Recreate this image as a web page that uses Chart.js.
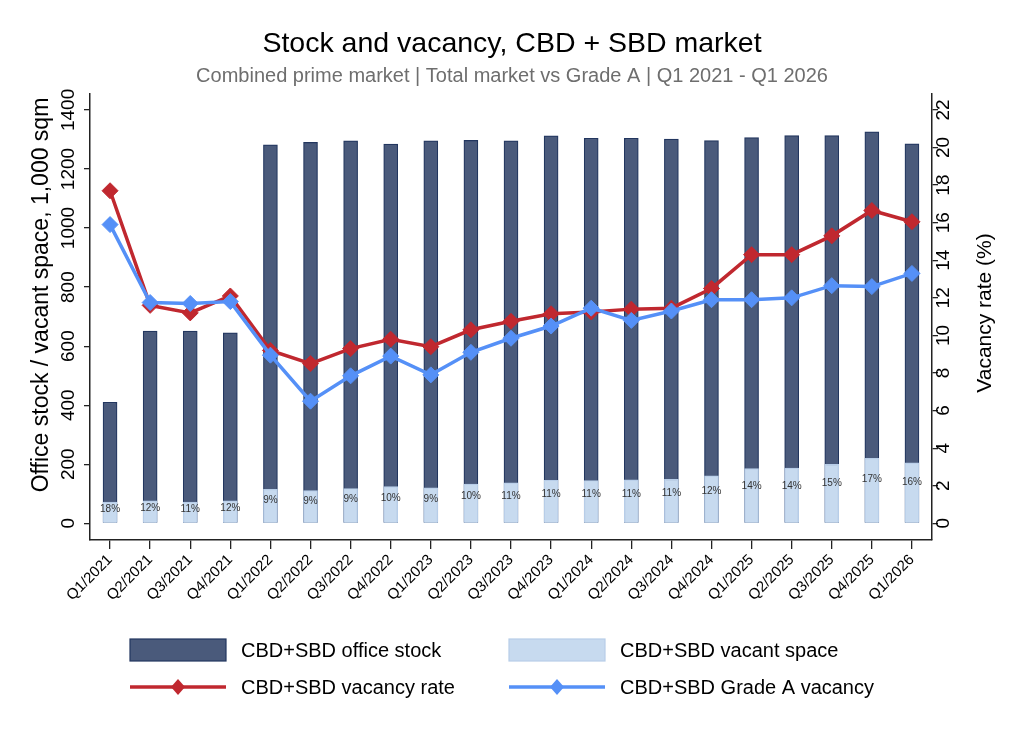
<!DOCTYPE html>
<html>
<head>
<meta charset="utf-8">
<title>Stock and vacancy, CBD + SBD market</title>
<script src="https://cdn.jsdelivr.net/npm/chart.js"></script>
<style>
  html, body { margin: 0; padding: 0; background: #fff; }
  #wrap { width: 1024px; height: 745px; }
</style>
</head>
<body>
<div id="wrap"><canvas id="chart" width="1024" height="745"></canvas></div>
<script>
const quarters = [
  'Q1/2021', 'Q2/2021', 'Q3/2021', 'Q4/2021',
  'Q1/2022', 'Q2/2022', 'Q3/2022', 'Q4/2022',
  'Q1/2023', 'Q2/2023', 'Q3/2023', 'Q4/2023',
  'Q1/2024', 'Q2/2024', 'Q3/2024', 'Q4/2024',
  'Q1/2025', 'Q2/2025', 'Q3/2025', 'Q4/2025',
  'Q1/2026',
];
// 1,000 sqm
const officeStock = [410, 651, 651, 645, 1282, 1290, 1295, 1284, 1295, 1297, 1295, 1312, 1304, 1304, 1301, 1296, 1306, 1313, 1313, 1326, 1285];
const vacantSpace = [72, 76, 72, 76, 115, 111, 118, 124, 120, 133, 137, 146, 145, 147, 149, 161, 185, 187, 200, 220, 205];
// %
const vacancyRate = [17.7, 11.6, 11.2, 12.1, 9.2, 8.5, 9.3, 9.8, 9.4, 10.3, 10.75, 11.15, 11.25, 11.4, 11.45, 12.5, 14.3, 14.3, 15.3, 16.65, 16.05];
const gradeAVacancy = [15.9, 11.75, 11.7, 11.8, 8.95, 6.5, 7.85, 8.9, 7.9, 9.1, 9.85, 10.5, 11.45, 10.8, 11.3, 11.9, 11.9, 12.0, 12.65, 12.6, 13.3];

const leftTicks = [0, 200, 400, 600, 800, 1000, 1200, 1400];
const rightTicks = [0, 2, 4, 6, 8, 10, 12, 14, 16, 18, 20, 22];

const FONT = "'Liberation Sans', Arial, Helvetica, sans-serif";
const AXIS = '#222';

// vacancy % label inside each light bar
const vacantLabels = {
  id: 'vacantLabels',
  afterDatasetsDraw(chart) {
    const ctx = chart.ctx;
    const meta = chart.getDatasetMeta(1);
    const y = chart.scales.y;
    ctx.save();
    ctx.font = '10px ' + FONT;
    ctx.fillStyle = '#333';
    ctx.textAlign = 'center';
    ctx.textBaseline = 'middle';
    meta.data.forEach((bar, i) => {
      const pct = Math.round(vacantSpace[i] / officeStock[i] * 100) + '%';
      ctx.fillText(pct, bar.x, y.getPixelForValue(vacantSpace[i] * 0.68));
    });
    ctx.restore();
  },
};

// axis titles, both reading upwards
const axisTitles = {
  id: 'axisTitles',
  afterDraw(chart) {
    const ctx = chart.ctx;
    ctx.save();
    ctx.fillStyle = '#000';
    ctx.textAlign = 'center';
    ctx.textBaseline = 'middle';
    ctx.font = '23px ' + FONT;
    ctx.translate(42, 295);
    ctx.rotate(-Math.PI / 2);
    ctx.fillText('Office stock / vacant space, 1,000 sqm', 0, 0);
    ctx.restore();

    ctx.save();
    ctx.fillStyle = '#000';
    ctx.textAlign = 'center';
    ctx.textBaseline = 'middle';
    ctx.font = '21px ' + FONT;
    ctx.translate(985, 313);
    ctx.rotate(-Math.PI / 2);
    ctx.fillText('Vacancy rate (%)', 0, 0);
    ctx.restore();
  },
};

// two-column legend below the axis
const bottomLegend = {
  id: 'bottomLegend',
  afterDraw(chart) {
    const ctx = chart.ctx;
    const ds = chart.data.datasets;
    const cols = [130, 509];
    const rows = [650, 687];
    const items = [
      { d: ds[0], col: 0, row: 0, kind: 'box' },
      { d: ds[1], col: 1, row: 0, kind: 'box' },
      { d: ds[2], col: 0, row: 1, kind: 'line' },
      { d: ds[3], col: 1, row: 1, kind: 'line' },
    ];
    items.forEach((it) => {
      const x = cols[it.col];
      const y = rows[it.row];
      ctx.save();
      if (it.kind === 'box') {
        ctx.fillStyle = it.d.backgroundColor;
        ctx.strokeStyle = it.d.borderColor;
        ctx.lineWidth = 1.2;
        ctx.fillRect(x, y - 11, 96, 22);
        ctx.strokeRect(x, y - 11, 96, 22);
      } else {
        ctx.strokeStyle = it.d.borderColor;
        ctx.lineWidth = 3.5;
        ctx.beginPath();
        ctx.moveTo(x, y);
        ctx.lineTo(x + 96, y);
        ctx.stroke();
        const cx = x + 48;
        ctx.fillStyle = it.d.borderColor;
        ctx.beginPath();
        ctx.moveTo(cx - 7, y);
        ctx.lineTo(cx, y - 8);
        ctx.lineTo(cx + 7, y);
        ctx.lineTo(cx, y + 8);
        ctx.closePath();
        ctx.fill();
      }
      ctx.fillStyle = '#000';
      ctx.font = '20px ' + FONT;
      ctx.textAlign = 'left';
      ctx.textBaseline = 'middle';
      ctx.fillText(it.d.label, x + 111, y + 1);
      ctx.restore();
    });
  },
};

const chartData = {
  labels: quarters,
  datasets: [
    {
      type: 'bar',
      label: 'CBD+SBD office stock',
      data: officeStock,
      backgroundColor: '#4a5a7b',
      borderColor: '#22365f',
      borderWidth: 1.2,
      barThickness: 14,
      grouped: false,
      yAxisID: 'y',
      order: 3,
    },
    {
      type: 'bar',
      label: 'CBD+SBD vacant space',
      data: vacantSpace,
      backgroundColor: '#c7daef',
      borderColor: '#b7cde8',
      borderWidth: 1.2,
      barThickness: 14,
      grouped: false,
      yAxisID: 'y',
      order: 2,
    },
    {
      type: 'line',
      label: 'CBD+SBD vacancy rate',
      data: vacancyRate,
      borderColor: '#c0282f',
      backgroundColor: '#c0282f',
      borderWidth: 3.5,
      pointStyle: 'rectRot',
      pointRadius: 8,
      pointBorderWidth: 1,
      tension: 0,
      yAxisID: 'y1',
      order: 1,
    },
    {
      type: 'line',
      label: 'CBD+SBD Grade A vacancy',
      data: gradeAVacancy,
      borderColor: '#5590f7',
      backgroundColor: '#5590f7',
      borderWidth: 3.5,
      pointStyle: 'rectRot',
      pointRadius: 8,
      pointBorderWidth: 1,
      tension: 0,
      yAxisID: 'y1',
      order: 0,
    },
  ],
};

const config = {
  data: chartData,
  options: {
    responsive: false,
    animation: false,
    layout: { padding: { left: 0, right: 0, top: 0, bottom: 145 } },
    plugins: {
      legend: { display: false },
      tooltip: { enabled: false },
      title: {
        display: true,
        text: 'Stock and vacancy, CBD + SBD market',
        color: '#000',
        font: { family: FONT, size: 28.5, weight: 'normal' },
        padding: { top: 27, bottom: 3 },
      },
      subtitle: {
        display: true,
        text: 'Combined prime market | Total market vs Grade A | Q1 2021 - Q1 2026',
        color: '#6e6e6e',
        font: { family: FONT, size: 20, weight: 'normal' },
        padding: { top: 0, bottom: 5.5 },
      },
    },
    scales: {
      x: {
        offset: true,
        grid: { display: true, offset: false, drawOnChartArea: false, tickLength: 9, color: AXIS, lineWidth: 1.3 },
        border: { display: true, color: AXIS, width: 1.5 },
        ticks: {
          autoSkip: false,
          minRotation: 45,
          maxRotation: 45,
          padding: 2,
          color: '#000',
          font: { family: FONT, size: 15 },
        },
        afterFit(scale) { scale.height = 60; },
      },
      y: {
        position: 'left',
        min: -56.5,
        max: 1455,
        grid: { display: true, drawOnChartArea: false, tickLength: 6, color: AXIS, lineWidth: 1.3 },
        border: { display: true, color: AXIS, width: 1.5 },
        ticks: {
          stepSize: 200,
          includeBounds: false,
          autoSkip: false,
          minRotation: 90,
          maxRotation: 90,
          crossAlign: 'center',
          padding: -5.6,
          color: '#000',
          font: { family: FONT, size: 19 },
          callback: (v) => (leftTicks.includes(v) ? String(v) : ''),
        },
        afterFit(scale) { scale.width = 90; },
      },
      y1: {
        position: 'right',
        min: -0.888,
        max: 22.866,
        grid: { display: true, drawOnChartArea: false, tickLength: 6, color: AXIS, lineWidth: 1.3 },
        border: { display: true, color: AXIS, width: 1.5 },
        ticks: {
          stepSize: 2,
          maxTicksLimit: 20,
          includeBounds: false,
          autoSkip: false,
          minRotation: 90,
          maxRotation: 90,
          crossAlign: 'center',
          padding: -4.6,
          color: '#000',
          font: { family: FONT, size: 19 },
          callback: (v) => (rightTicks.includes(v) ? String(v) : ''),
        },
        afterFit(scale) { scale.width = 92; },
      },
    },
  },
  plugins: [vacantLabels, axisTitles, bottomLegend],
};

const ctx = document.getElementById('chart').getContext('2d');
new Chart(ctx, config);
</script>
</body>
</html>
